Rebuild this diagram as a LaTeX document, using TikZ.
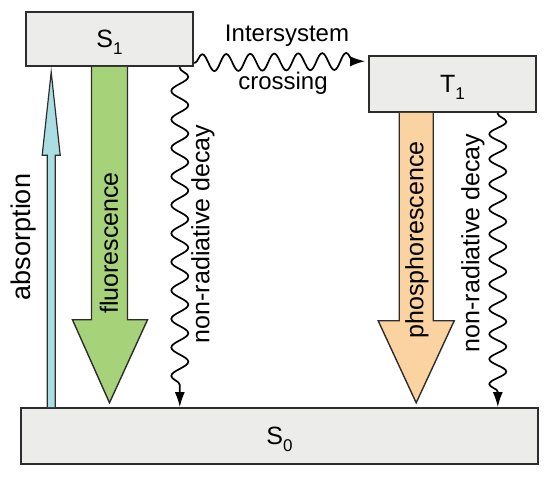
\documentclass[tikz,border=0pt]{standalone}
\usepackage{fontspec}
\setmainfont{Liberation Sans}
\usetikzlibrary{arrows.meta,decorations.pathmorphing,calc}
\definecolor{boxfill}{RGB}{236,236,234}
\definecolor{boxline}{RGB}{45,45,45}
\definecolor{fluo}{RGB}{166,210,122}
\definecolor{phos}{RGB}{251,211,160}
\definecolor{absc}{RGB}{170,222,226}
\newcommand\lvsub[1]{\raisebox{-0.28em}{\fontsize{17}{17}\selectfont #1}}
\begin{document}
\begin{tikzpicture}[x=1pt,y=-1pt,
  level/.style={draw=boxline, fill=boxfill, line width=1.6pt, inner sep=0pt},
  lbl/.style={font=\fontsize{25}{29}\selectfont, inner sep=0pt},
  fat/.style={draw=boxline, line width=1.4pt, line join=miter},
  wavy/.style={line width=1.7pt, decorate,
    decoration={snake, amplitude=8.5pt, segment length=#1, pre length=1pt, post length=14pt},
    -{Latex[length=15pt,width=10pt]}},
]
\fill[white] (0,0) rectangle (550,478);
\useasboundingbox (0,0) rectangle (550,478);

% energy levels
\node[level, minimum width=167pt, minimum height=54pt] (S1) at (109.5,39) {};
\node[level, minimum width=167pt, minimum height=56pt] (T1) at (452.5,84) {};
\node[level, minimum width=517pt, minimum height=56pt] (S0) at (279.5,436) {};

\node[lbl, anchor=base] (S1l) at ($(S1.center)+(0,9)$) {S\lvsub{1}};
\node[lbl, anchor=base] (T1l) at ($(T1.center)+(0,9)$) {T\lvsub{1}};
\node[lbl, anchor=base] (S0l) at ($(S0.center)+(0,9)$) {S\lvsub{0}};

% absorption
\begin{scope}[shift={($(S0.north west)+(31,0)$)}]
  \draw[fat, fill=absc, line width=1.2pt] (-4,0) -- (-4,-252) -- (-9,-252) -- (0,-335) -- (9,-252) -- (4,-252) -- (4,0);
\end{scope}
\node[lbl, rotate=90, font=\fontsize{27}{31}\selectfont] (absl) at (24,237) {absorption};

% fluorescence
\begin{scope}[shift={(S1.south)}]
  \draw[fat, fill=fluo] (-18,0) -- (-18,253) -- (-37,253) -- (0,336) -- (38,253) -- (18,253) -- (18,0);
\end{scope}
\node[lbl, rotate=90] (fl) at (109,243) {fluorescence};

% phosphorescence
\begin{scope}[shift={($(T1.south west)+(48,0)$)}]
  \draw[fat, fill=phos] (-17,0) -- (-17,208) -- (-38,208) -- (0,290) -- (38,208) -- (17,208) -- (17,0);
\end{scope}
\node[lbl, rotate=90] (phl) at (417,240) {phosphorescence};

% non-radiative decay from S1
\coordinate (w1) at ($(S1.south east)+(-14,0)$);
\draw[wavy=28.5pt] (w1) -- (w1 |- S0.north);
\node[lbl, rotate=90] (nr1) at (203,234) {non-radiative decay};

% non-radiative decay from T1
\coordinate (w2) at ($(T1.south east)+(-39,0)$);
\draw[wavy=25pt] (w2) -- (w2 |- S0.north);
\node[lbl, rotate=90] (nr2) at (473,243) {non-radiative decay};

% intersystem crossing
\coordinate (isc0) at ($(S1.south east)+(0,-4)$);
\coordinate (isc1) at ($(T1.north west)+(0,6)$);
\draw[wavy=24pt, shorten >=3pt] (isc0) -- (isc1);
\node[lbl, anchor=base, font=\fontsize{24}{28}\selectfont] (isct) at (287,42) {Intersystem};
\node[lbl, anchor=base, font=\fontsize{24}{28}\selectfont] (iscb) at (283,90) {crossing};
\end{tikzpicture}
\end{document}
